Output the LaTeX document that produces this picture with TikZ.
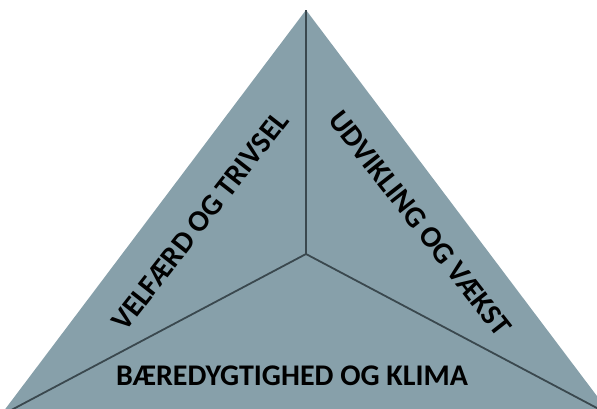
\documentclass[tikz,border=0pt]{standalone}
\usepackage{fontspec}
\setmainfont{Carlito}
\usetikzlibrary{calc}
\definecolor{slate}{RGB}{135,160,170}
\definecolor{seam}{RGB}{58,72,78}

\begin{document}
\begin{tikzpicture}[x=1pt,y=1pt,
	sidelabel/.style={font=\bfseries\fontsize{30}{32}\selectfont, text=black, inner sep=0pt},
	seamline/.style={draw=seam, line width=1.8pt}]
	\useasboundingbox (0,0) rectangle (597,-408);
	\clip (0,0) rectangle (597,-408);

	\coordinate (apex) at (306,-10);
	\coordinate (lcorner) at (0,-416);
	\coordinate (rcorner) at (612,-416);
	\coordinate (hub) at (306,-254);

	\fill[slate] (apex) -- (lcorner) -- (rcorner) -- cycle;
	\draw[seamline] (hub) -- (apex);
	\draw[seamline] (hub) -- (lcorner);
	\draw[seamline] (hub) -- (rcorner);

	\node[sidelabel, rotate=52] (velfaerd) at (200,-221) {VELFÆRD OG TRIVSEL};
	\node[sidelabel, rotate=-52] (udvikling) at (420,-223) {UDVIKLING OG VÆKST};
	\node[sidelabel] (klima) at (292,-376) {BÆREDYGTIGHED OG KLIMA};
\end{tikzpicture}
\end{document}
